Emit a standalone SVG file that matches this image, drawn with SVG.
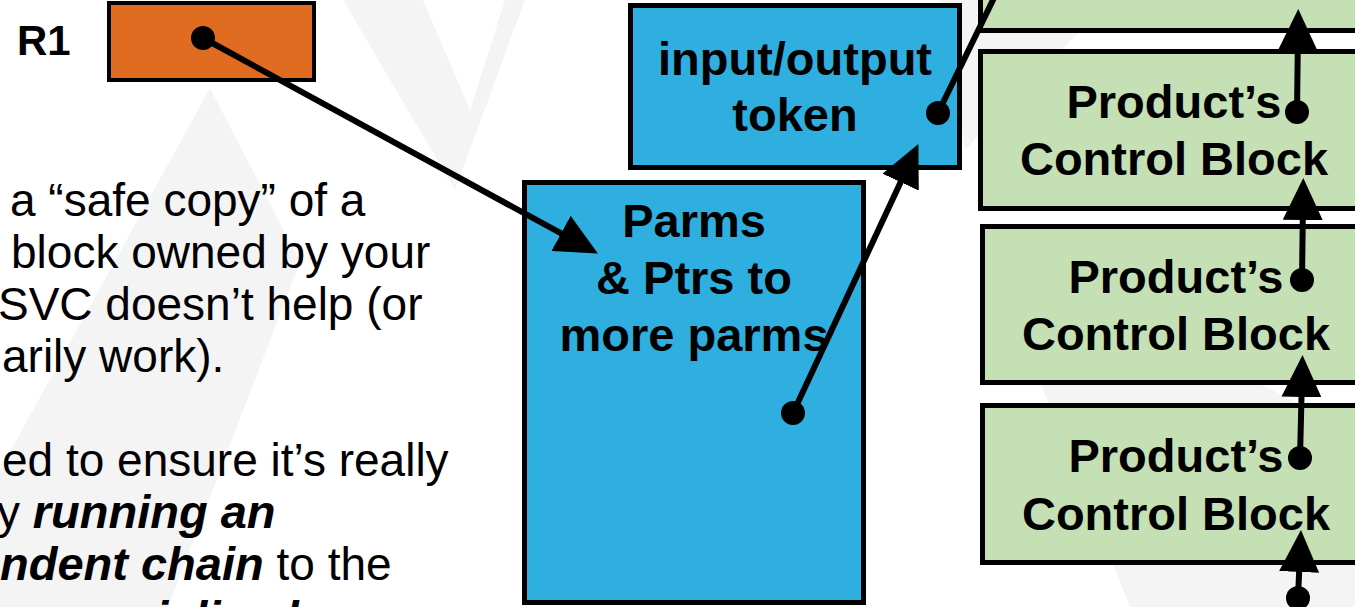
<svg xmlns="http://www.w3.org/2000/svg" width="1355" height="607" viewBox="0 0 1355 607">
  <defs>
    <marker id="head" markerUnits="userSpaceOnUse" markerWidth="42" markerHeight="40" refX="20" refY="20" orient="auto" viewBox="0 0 42 40">
      <path d="M0,0 L42,20 L0,40 Z" fill="#000"/>
    </marker>
    <style>
      .wm { fill: #f4f4f4; }
      .box { stroke: #000; stroke-width: 5; }
      .orange { fill: #e06c22; stroke: #000; stroke-width: 4; }
      .blue { fill: #2faee0; }
      .green { fill: #c5e0b4; }
      .lbl { font-family: "Liberation Sans", Arial, sans-serif; font-weight: bold; font-size: 47px; fill: #000; text-anchor: middle; }
      .body { font-family: "Liberation Sans", Arial, sans-serif; font-size: 46px; fill: #000; }
      .em { font-weight: bold; font-style: italic; font-size: 47px; }
      .wire { stroke: #000; stroke-width: 6; fill: none; }
      .arrow { marker-end: url(#head); }
      .dot { fill: #000; }
    </style>
  </defs>

  <rect width="1355" height="607" fill="#fff"/>

  <!-- faint background chevrons -->
  <g id="watermark">
    <polygon class="wm" points="210,88 300,262 168,607 0,607 0,470"/>
    <polygon class="wm" points="343,0 423,0 470,110 505,0 525,0 455,190"/>
    <polygon class="wm" points="940,0 1110,0 965,150"/>
    <polygon class="wm" points="985,245 1355,432 1355,607 1130,607"/>
  </g>

  <!-- body text on the left -->
  <g id="notes">
    <text class="body" x="10" y="216">a “safe copy” of a</text>
    <text class="body" x="11" y="268">block owned by your</text>
    <text class="body" x="-2" y="320">SVC doesn’t help (or</text>
    <text class="body" x="2" y="372">arily work).</text>
    <text class="body" x="2" y="476">ed to ensure it’s really</text>
    <text class="body" x="-3" y="528">y <tspan class="em">running an</tspan></text>
    <text class="body" x="0" y="580"><tspan class="em">ndent chain</tspan> to the</text>
    <text class="body em" x="48" y="634">specialized</text>
  </g>

  <g id="r1">
    <text x="17" y="55" font-family="Liberation Sans, Arial, sans-serif" font-weight="bold" font-size="42">R1</text>
    <rect class="orange" x="109" y="3" width="205" height="77"/>
  </g>

  <g id="io-token">
    <rect class="box blue" x="630.5" y="5.5" width="329" height="162"/>
    <text class="lbl" x="795" y="75">input/output</text>
    <text class="lbl" x="795" y="131">token</text>
  </g>

  <g id="parms">
    <rect class="box blue" x="524.5" y="182.5" width="339" height="420"/>
    <text class="lbl" x="694" y="237">Parms</text>
    <text class="lbl" x="694" y="294">&amp; Ptrs to</text>
    <text class="lbl" x="694" y="351">more parms</text>
  </g>

  <g id="cb-top">
    <rect class="box green" x="980.5" y="-130" width="420" height="160.5"/>
  </g>
  <g id="cb-1">
    <rect class="box green" x="980.5" y="51.5" width="420" height="157"/>
    <text class="lbl" x="1174" y="118">Product’s</text>
    <text class="lbl" x="1174" y="175">Control Block</text>
  </g>
  <g id="cb-2">
    <rect class="box green" x="982.5" y="226.5" width="420" height="156"/>
    <text class="lbl" x="1176" y="293">Product’s</text>
    <text class="lbl" x="1176" y="350">Control Block</text>
  </g>
  <g id="cb-3">
    <rect class="box green" x="982.5" y="405.5" width="420" height="157"/>
    <text class="lbl" x="1176" y="472">Product’s</text>
    <text class="lbl" x="1176" y="530">Control Block</text>
  </g>

  <!-- pointer connectors: dot at the source, arrowhead at the target -->
  <g id="connectors">
    <line class="wire arrow" x1="203" y1="38" x2="578.6" y2="242.9"/>
    <circle class="dot" cx="203" cy="38" r="12"/>

    <line class="wire arrow" x1="793" y1="413" x2="909.1" y2="164"/>
    <circle class="dot" cx="793" cy="413" r="12"/>

    <line class="wire" x1="938" y1="113" x2="1010" y2="-35"/>
    <circle class="dot" cx="938" cy="113" r="12"/>

    <line class="wire arrow" x1="1297" y1="112" x2="1298" y2="31"/>
    <circle class="dot" cx="1297" cy="112" r="12"/>

    <line class="wire arrow" x1="1302" y1="280" x2="1303" y2="200"/>
    <circle class="dot" cx="1302" cy="280" r="12"/>

    <line class="wire arrow" x1="1300" y1="458" x2="1302" y2="377"/>
    <circle class="dot" cx="1300" cy="458" r="12"/>

    <line class="wire arrow" x1="1298" y1="598" x2="1300" y2="552"/>
    <circle class="dot" cx="1298" cy="598" r="12"/>
  </g>
</svg>
